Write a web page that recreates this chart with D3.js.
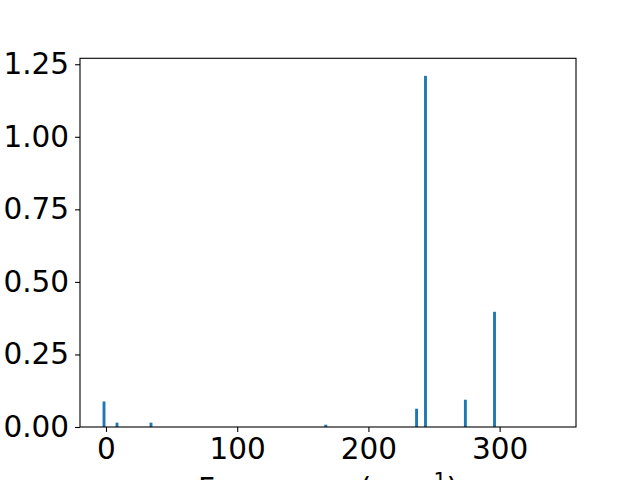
<!DOCTYPE html>
<html>
<head>
<meta charset="utf-8">
<script src="https://cdn.jsdelivr.net/npm/d3@7"></script>
<style>
  body { margin: 0; background: #fff; }
  svg { display: block; }
  .tick text { font-family: "DejaVu Sans", sans-serif; }
</style>
</head>
<body>
<div id="plotDiv"></div>
<script>
// frequencies (cm^-1) and intensities
var freqs = [-1.5, 8.4, 34.3, 167.5, 236.7, 243.5, 273.9, 296.1];
var intensities = [0.088, 0.015, 0.015, 0.008, 0.063, 1.21, 0.094, 0.397];
var xTicks = [0, 100, 200, 300];
var yTicks = [0, 0.25, 0.5, 0.75, 1.0, 1.25];

var barWidth = 2.2; // in data units

var margin = {top: 58.3, right: 64, bottom: 53, left: 80},
    width = 640 - margin.left - margin.right,
    height = 480 - margin.top - margin.bottom;

var x = d3.scaleLinear()
    .domain([-19.8, 358.2])
    .range([0, width]);
var y = d3.scaleLinear()
    .domain([0, d3.max(intensities) * 1.05])
    .range([height, 0]);

var svg = d3.select("#plotDiv")
    .append("svg")
        .attr("width", 640)
        .attr("height", 480)
    .append("g")
        .attr("transform", "translate(" + margin.left + "," + margin.top + ")");

var data = freqs.map(function(f, i) { return {f: f, v: intensities[i]}; });

// bars
svg.selectAll("rect.bar")
    .data(data)
    .enter().append("rect")
    .attr("class", "bar")
    .attr("fill", "#1f77b4")
    .attr("x", function(d) { return x(d.f - barWidth / 2); })
    .attr("width", function(d) { return x(d.f + barWidth / 2) - x(d.f - barWidth / 2); })
    .attr("y", function(d) { return y(d.v); })
    .attr("height", function(d) { return height - y(d.v); });

// axes
var fmtY = d3.format(".2f");
var xAxis = svg.append("g")
    .attr("transform", "translate(0," + height + ")")
    .call(d3.axisBottom(x).tickValues(xTicks).tickSize(4.9).tickPadding(6).tickFormat(d3.format("d")));
var yAxis = svg.append("g")
    .call(d3.axisLeft(y).tickValues(yTicks).tickSize(4.9).tickPadding(6).tickFormat(fmtY));

[xAxis, yAxis].forEach(function(a) {
    a.select(".domain").remove();
    a.selectAll("line").attr("stroke", "#000").attr("stroke-width", 1.1);
    a.selectAll("text").attr("font-size", "29.5px").attr("fill", "#000");
});

// frame
svg.append("rect")
    .attr("x", 0).attr("y", 0)
    .attr("width", width).attr("height", height)
    .attr("fill", "none")
    .attr("stroke", "#000")
    .attr("stroke-width", 1.1);

// x label (cut off at bottom as in the original)
var xl = svg.append("text")
    .attr("x", width / 2)
    .attr("y", 499 - margin.top)
    .attr("text-anchor", "middle")
    .attr("font-family", "DejaVu Sans, sans-serif")
    .attr("font-size", "29.5px")
    .attr("fill", "#000");
xl.append("tspan").text("Frequency (cm");
xl.append("tspan").attr("font-size", "20.5px").attr("dy", "-11").text("\u22121");
xl.append("tspan").attr("dy", "11").text(")");
</script>
</body>
</html>
